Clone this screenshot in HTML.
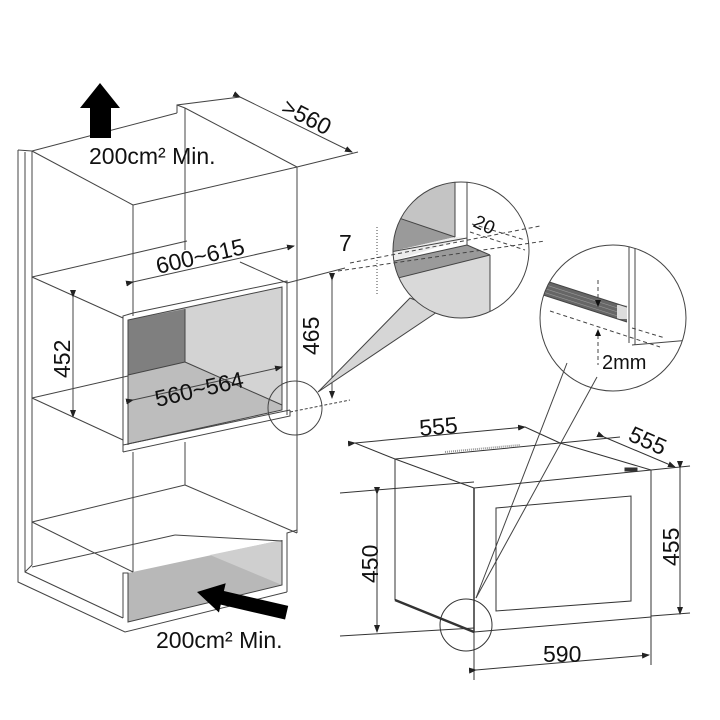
<!DOCTYPE html>
<html><head><meta charset="utf-8"><style>
html,body{margin:0;padding:0;background:#fff;}
svg{display:block;}
text{font-family:"Liberation Sans",sans-serif;fill:#111;}
</style></head><body>
<svg width="720" height="720" viewBox="0 0 720 720" xmlns="http://www.w3.org/2000/svg">
<defs>
<marker id="ar" markerWidth="8" markerHeight="6" refX="7" refY="3" orient="auto"><path d="M0,0 L8,3 L0,6 z" fill="#222"/></marker>
<clipPath id="c1"><circle cx="461" cy="250" r="68"/></clipPath>
<clipPath id="c2"><circle cx="613" cy="318" r="73"/></clipPath>
</defs>
<rect width="720" height="720" fill="#fff"/>

<polygon points="128,320 282,287 282,410 128,444" fill="#bdbdbd"/>
<polygon points="185,309 282,287 282,405 185,362" fill="#d3d3d3"/>
<polygon points="128,320 185,309 185,362 128,375" fill="#7f7f7f"/>
<polygon points="128,573 282,540 282,585 128,622" fill="#b8b8b8"/>
<polygon points="210,555 282,540 282,585" fill="#cfcfcf"/>

<g stroke="#444" stroke-width="1" fill="none">
<polyline points="18,150 18,582 125,632 287,592"/>
<polyline points="25,152 25,572 123,618"/>
<line x1="18" y1="150" x2="32" y2="151"/>
<line x1="32" y1="151" x2="32" y2="565"/>
<line x1="32" y1="151" x2="177" y2="113"/>
<polyline points="177,113 177,105 240,97"/>
<line x1="177" y1="105" x2="185" y2="108"/>
<line x1="185" y1="108" x2="185" y2="250"/>
<line x1="185" y1="108" x2="297" y2="167"/>
<line x1="32" y1="151" x2="133" y2="205"/>
<line x1="133" y1="205" x2="297" y2="167"/>
<line x1="133" y1="205" x2="133" y2="316"/>
<line x1="297" y1="167" x2="297" y2="533"/>
<line x1="240" y1="97" x2="352" y2="152" marker-start="url(#ar)" marker-end="url(#ar)"/>
<line x1="297" y1="167" x2="358" y2="152"/>
<line x1="32" y1="277" x2="187" y2="241"/>
<line x1="32" y1="277" x2="123" y2="318"/>
<line x1="240" y1="262" x2="287" y2="283"/>
<line x1="287" y1="283" x2="345" y2="268"/>
<line x1="133" y1="282" x2="294" y2="246" marker-start="url(#ar)" marker-end="url(#ar)"/>
<line x1="73" y1="297" x2="73" y2="417" marker-start="url(#ar)" marker-end="url(#ar)"/>
<line x1="332" y1="280" x2="332" y2="398" marker-start="url(#ar)" marker-end="url(#ar)"/>
<polyline points="123,452 123,316 133,313 287,281 287,415"/>
<polyline points="128,445 128,320 282,287 282,410 128,444"/>
<line x1="185" y1="309" x2="185" y2="362"/>
<line x1="128" y1="375" x2="185" y2="362"/>
<line x1="185" y1="362" x2="282" y2="405"/>
<polyline points="123,452 290,416 290,410"/>
<line x1="123" y1="445" x2="290" y2="410"/>
<line x1="133" y1="400" x2="282" y2="367" marker-start="url(#ar)" marker-end="url(#ar)"/>
<line x1="32" y1="398" x2="123" y2="440"/>
<line x1="32" y1="398" x2="128" y2="376"/>
<line x1="133" y1="452" x2="133" y2="572"/>
<line x1="185" y1="442" x2="185" y2="485"/>
<line x1="32" y1="522" x2="185" y2="485"/>
<line x1="185" y1="485" x2="297" y2="533"/>
<line x1="32" y1="522" x2="133" y2="572"/>
<line x1="32" y1="567" x2="175" y2="535"/>
<line x1="175" y1="535" x2="282" y2="541"/>
<polyline points="287,592 287,533 297,530"/>
<polyline points="123,618 123,573 128,573 128,622 282,585 282,540"/>
<line x1="32" y1="565" x2="25" y2="572"/>
<circle cx="295" cy="408" r="27"/>
<line x1="290" y1="412" x2="350" y2="400" stroke-dasharray="3,2"/>
</g>

<polygon points="318,392 410,298 440,310" fill="#d6d6d6" stroke="#444" stroke-width="1"/>

<g clip-path="url(#c1)">
<rect x="390" y="180" width="145" height="140" fill="#fff"/>
<polygon points="390,180 455,180 455,237 390,215" fill="#c4c4c4"/>
<polygon points="390,215 455,237 390,252" fill="#9a9a9a"/>
<polygon points="390,252 455,237 467,238 390,262" fill="#ececec"/>
<polygon points="390,262 467,245 490,255 390,280" fill="#9a9a9a"/>
<polygon points="390,280 490,255 490,330 390,330" fill="#d9d9d9"/>
<g stroke="#444" stroke-width="1" fill="none">
<line x1="455" y1="180" x2="455" y2="237"/>
<line x1="467" y1="180" x2="467" y2="245"/>
<line x1="490" y1="255" x2="490" y2="320"/>
<line x1="390" y1="252" x2="467" y2="238"/>
<line x1="390" y1="262" x2="467" y2="245"/>
<line x1="467" y1="245" x2="490" y2="255"/>
<line x1="390" y1="280" x2="490" y2="255"/>
<line x1="390" y1="215" x2="455" y2="237"/>
</g>
</g>
<circle cx="461" cy="250" r="68" fill="none" stroke="#444" stroke-width="1"/>
<g stroke="#444" stroke-width="1" fill="none" stroke-dasharray="4,3">
<line x1="350" y1="263" x2="540" y2="226"/>
<line x1="338" y1="271" x2="545" y2="241"/>
<line x1="470" y1="232" x2="525" y2="250"/>
<line x1="472" y1="224" x2="525" y2="240"/>
</g>
<line x1="377" y1="227" x2="377" y2="295" stroke="#444" stroke-width="1" stroke-dasharray="1,2"/>

<g clip-path="url(#c2)">
<polygon points="540,279 627,307 627,322 540,294" fill="#666"/>
<g stroke="#999" stroke-width="0.6">
<line x1="540" y1="283" x2="627" y2="311"/>
<line x1="540" y1="287" x2="627" y2="315"/>
<line x1="540" y1="291" x2="627" y2="319"/>
</g>
<rect x="617" y="305" width="10" height="14" fill="#ddd"/>
<g stroke="#444" stroke-width="1" fill="none">
<line x1="629" y1="240" x2="629" y2="343"/>
<line x1="635" y1="240" x2="635" y2="345"/>
<line x1="632" y1="345" x2="690" y2="340"/>
<line x1="540" y1="279" x2="627" y2="307"/>
<line x1="540" y1="294" x2="627" y2="322"/>
</g>
<g stroke="#444" stroke-width="1" fill="none" stroke-dasharray="4,3">
<line x1="550" y1="311" x2="660" y2="347"/>
<line x1="632" y1="328" x2="665" y2="338"/>
<line x1="598" y1="280" x2="598" y2="300"/>
<line x1="598" y1="335" x2="598" y2="365"/>
</g>
<polygon points="595,300 601,300 598,307" fill="#111"/>
<polygon points="595,336 601,336 598,329" fill="#111"/>
</g>
<circle cx="613" cy="318" r="73" fill="none" stroke="#444" stroke-width="1"/>
<line x1="567" y1="363" x2="476" y2="598" stroke="#444" stroke-width="1"/>
<line x1="597" y1="377" x2="476" y2="598" stroke="#444" stroke-width="1"/>

<g stroke="#333" stroke-width="1" fill="none">
<polyline points="395,459 560,443 651,470"/>
<line x1="395" y1="459" x2="474" y2="488"/>
<line x1="474" y1="488" x2="651" y2="470"/>
<line x1="395" y1="459" x2="395" y2="600"/>
<line x1="474" y1="488" x2="474" y2="632" stroke-width="1.5"/>
<line x1="651" y1="470" x2="651" y2="617"/>
<line x1="474" y1="632" x2="651" y2="617"/>
<line x1="395" y1="600" x2="474" y2="632" stroke-width="2.5"/>
<polygon points="496,508 631,496 631,601 496,611"/>
<line x1="445" y1="452" x2="520" y2="445" stroke="#999" stroke-width="2" stroke-dasharray="1,1"/>
<line x1="355" y1="443" x2="525" y2="427" marker-start="url(#ar)" marker-end="url(#ar)"/>
<line x1="355" y1="443" x2="395" y2="459"/>
<line x1="525" y1="427" x2="560" y2="443"/>
<line x1="560" y1="443" x2="620" y2="437"/>
<line x1="604" y1="437" x2="675" y2="467" marker-start="url(#ar)" marker-end="url(#ar)"/>
<line x1="651" y1="470" x2="690" y2="466"/>
<rect x="625" y="468" width="12" height="3" fill="#333"/>
<line x1="340" y1="493" x2="474" y2="482"/>
<line x1="340" y1="636" x2="474" y2="628"/>
<line x1="377" y1="494" x2="377" y2="632" marker-start="url(#ar)" marker-end="url(#ar)"/>
<line x1="680" y1="468" x2="680" y2="614" marker-start="url(#ar)" marker-end="url(#ar)"/>
<line x1="651" y1="616" x2="690" y2="613"/>
<line x1="474" y1="632" x2="474" y2="680"/>
<line x1="651" y1="617" x2="651" y2="665"/>
<line x1="476" y1="670" x2="649" y2="655" marker-start="url(#ar)" marker-end="url(#ar)"/>
<circle cx="466" cy="625" r="26"/>
</g>

<polygon points="100,83 120,108 111,108 111,138 90,138 90,108 80,108" fill="#000"/>
<g transform="translate(197,592) rotate(13)">
<polygon points="0,0 26,-15 26,-7 92,-7 92,7 26,7 26,15" fill="#000"/>
</g>

<text x="89" y="164" font-size="23">200cm² Min.</text>
<text x="156" y="648" font-size="23">200cm² Min.</text>
<text transform="translate(280,112) rotate(27)" font-size="23">&gt;560</text>
<text transform="translate(158,274) rotate(-13)" font-size="23">600~615</text>
<text transform="translate(157,407) rotate(-13)" font-size="23">560~564</text>
<text transform="translate(70,378) rotate(-90)" font-size="23">452</text>
<text transform="translate(319,355) rotate(-90)" font-size="23">465</text>
<text x="339" y="251" font-size="23">7</text>
<text transform="translate(472,226) rotate(25)" font-size="19">20</text>
<text x="602" y="369" font-size="20">2mm</text>
<text transform="translate(420,436) rotate(-5)" font-size="23">555</text>
<text transform="translate(627,440) rotate(24)" font-size="23">555</text>
<text transform="translate(378,583) rotate(-90)" font-size="23">450</text>
<text transform="translate(679,566) rotate(-90)" font-size="23">455</text>
<text x="543" y="662" font-size="23">590</text>
</svg>
</body></html>
